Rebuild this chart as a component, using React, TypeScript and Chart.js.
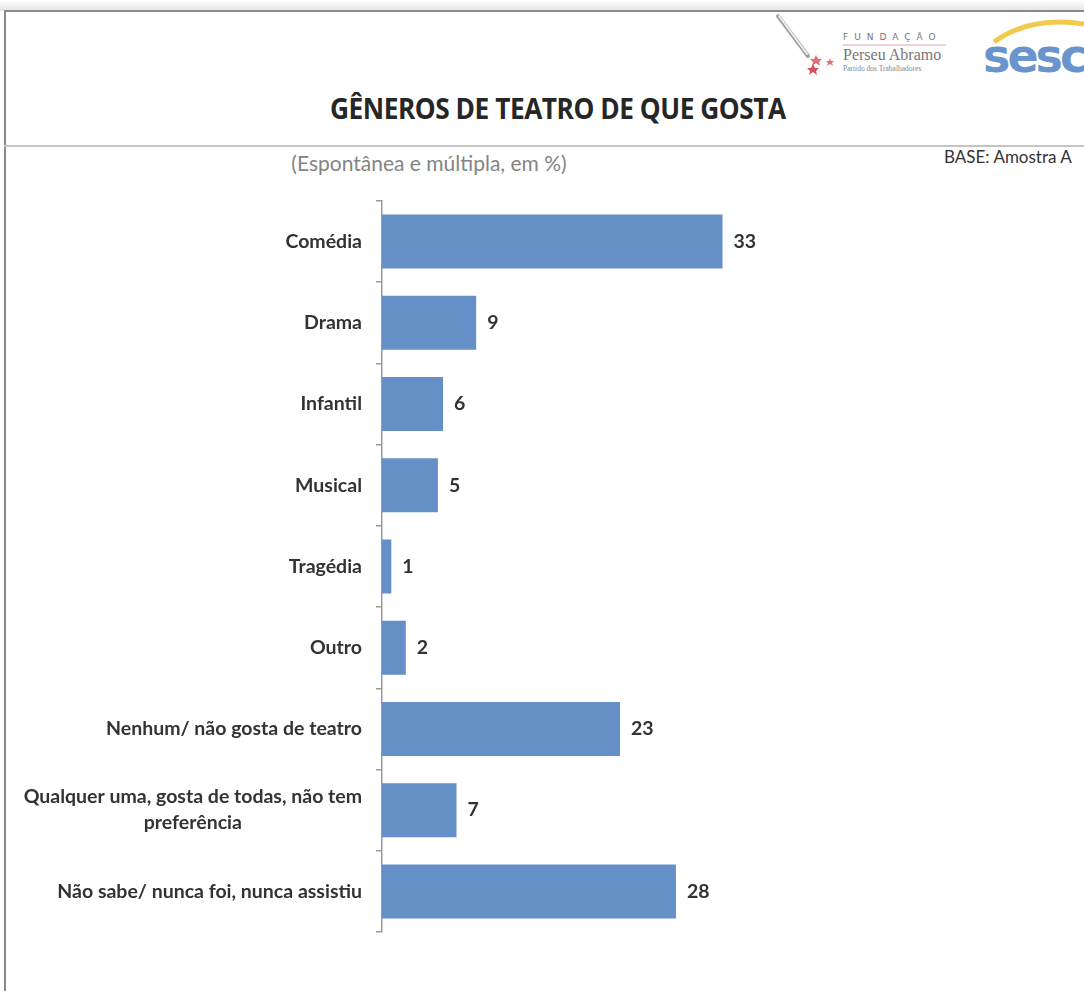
import React, { useEffect, useRef } from "react";
import { Chart, registerables } from "chart.js";
Chart.register(...registerables);

const categories: (string | string[])[] = [
  "Comédia",
  "Drama",
  "Infantil",
  "Musical",
  "Tragédia",
  "Outro",
  "Nenhum/ não gosta de teatro",
  ["Qualquer uma, gosta de todas, não tem", "preferência"],
  "Não sabe/ nunca foi, nunca assistiu",
];
// bar lengths (labels show them rounded)
const values: number[] = [32.9, 9.1, 5.9, 5.4, 0.9, 2.3, 23.0, 7.2, 28.4];
const valueLabels: string[] = values.map((v) => String(Math.round(v)));

const titleText = "GÊNEROS DE TEATRO DE QUE GOSTA";
const subtitleText = "(Espontânea e múltipla, em %)";
const baseText = "BASE: Amostra A";

const BAR_COLOR = "#658fc7";
const TEXT_COLOR = "#333333";
const LABEL_FONT = "bold 19.5px Lato";

const labelPlugin = {
  id: "catLabels",
  afterDraw(chart: any) {
    const ctx = chart.ctx;
    const yScale = chart.scales.y;
    const meta = chart.getDatasetMeta(0);
    ctx.save();
    ctx.font = LABEL_FONT;
    ctx.fillStyle = TEXT_COLOR;
    ctx.textBaseline = "middle";
    const rightX = yScale.right - 20;
    categories.forEach((c, i) => {
      const cy = yScale.getPixelForValue(i);
      const lines = Array.isArray(c) ? c : [c];
      const widths = lines.map((l) => ctx.measureText(l).width);
      const maxW = Math.max(...widths);
      const lh = 26;
      lines.forEach((l, j) => {
        const ly = cy + (j - (lines.length - 1) / 2) * lh;
        ctx.textAlign = "center";
        ctx.fillText(l, rightX - maxW / 2, ly);
      });
    });
    meta.data.forEach((bar: any, i: number) => {
      ctx.textAlign = "left";
      ctx.fillText(valueLabels[i], bar.x + 11, bar.y);
    });
    ctx.restore();
  },
};

export default function App() {
  const ref = useRef<HTMLCanvasElement>(null);
  const titleRef = useRef<HTMLSpanElement>(null);
  useEffect(() => {
    if (titleRef.current) {
      const w = titleRef.current.offsetWidth;
      if (w > 0) titleRef.current.style.transform = `scaleX(${456 / w})`;
    }
    if (!ref.current) return;
    const chart = new Chart(ref.current, {
      type: "bar",
      data: {
        labels: categories.map((c) => (Array.isArray(c) ? c.join(" ") : c)),
        datasets: [
          {
            data: values,
            backgroundColor: BAR_COLOR,
            borderWidth: 0,
            categoryPercentage: 1,
            barPercentage: 0.665,
          },
        ],
      },
      options: {
        indexAxis: "y",
        responsive: false,
        animation: false,
        layout: { padding: { top: 11, bottom: 18, left: 0, right: 81 } },
        plugins: { legend: { display: false }, tooltip: { enabled: false }, title: { display: false } },
        scales: {
          x: { display: false, min: 0, max: 60 },
          y: {
            type: "category",
            afterFit: (scale: any) => {
              scale.width = 382;
            },
            ticks: { display: false },
            grid: {
              offset: true,
              drawOnChartArea: false,
              drawTicks: true,
              tickLength: 6,
              color: "#9a9a9a",
              lineWidth: 1.5,
            },
            border: { display: true, color: "#9a9a9a", width: 1.5 },
          },
        },
      },
      plugins: [labelPlugin],
    });
    return () => chart.destroy();
  }, []);

  return (
    <div
      style={{
        position: "absolute",
        left: 0,
        top: 0,
        width: 1084,
        height: 991,
        background: "#fff",
        overflow: "hidden",
      }}
    >
      {/* frame */}
      <div style={{ position: "absolute", left: 0, top: 0, width: 1084, height: 11, background: "linear-gradient(#fff, #e4e4e4)" }} />
      <div style={{ position: "absolute", left: 4, top: 10, width: 1080, height: 2, background: "#8a8a8a" }} />
      <div style={{ position: "absolute", left: 4, top: 10, width: 2, height: 981, background: "#8a8a8a" }} />
      <div style={{ position: "absolute", left: 4, top: 145, width: 1080, height: 2, background: "#c4c4c4" }} />

      {/* logos */}
      <svg style={{ position: "absolute", left: 770, top: 12 }} width={314} height={70}>
        <line x1={8} y1={4} x2={38} y2={44} stroke="#a0a0a0" strokeWidth={4} strokeLinecap="round" />
        <line x1={9} y1={4} x2={37} y2={42} stroke="#ececec" strokeWidth={2} strokeLinecap="round" />
        <polygon points="46,43 48,47 52,47 49,50 50,54 46,51 42,54 43,50 40,47 44,47" fill="#e36d7b" />
        <polygon points="60,46 61,49 64,49 62,51 63,54 60,52 57,54 58,51 56,49 59,49" fill="#e36d7b" />
        <polygon points="43,52 45,56 49,56 46,59 47,63 43,60 39,63 40,59 37,56 41,56" fill="#d9505f" />
        <text x={73} y={28} fontSize={9} fill="#777" fontFamily="DejaVu Sans" letterSpacing={6}>FUNDAÇÃO</text>
        <line x1={73} y1={33} x2={176} y2={33} stroke="#e8a0aa" strokeWidth={1} />
        <text x={73} y={48} fontSize={16} fill="#777" fontFamily="Liberation Serif">Perseu Abramo</text>
        <text x={73} y={59} fontSize={7.5} fill="#888" fontFamily="Liberation Serif">Partido dos Trabalhadores</text>
        <path d="M 224 30 Q 260 4 314 12" stroke="#f2c94c" strokeWidth={5} fill="none" />
        <text x={213} y={60} fontSize={46} fontWeight="bold" fill="#6a95cc" fontFamily="DejaVu Sans" letterSpacing={-3}>sesc</text>
      </svg>

      {/* title */}
      <div style={{ position: "absolute", left: 330, top: 92, whiteSpace: "nowrap" }}>
        <span
          ref={titleRef}
          style={{
            display: "inline-block",
            transformOrigin: "0 0",
            fontFamily: "'Open Sans'",
            fontWeight: "bold",
            fontSize: 28,
            color: "#262626",
            letterSpacing: -0.5,
            lineHeight: "32px",
          }}
        >
          {titleText}
        </span>
      </div>
      <div
        style={{
          position: "absolute",
          left: 0,
          top: 150,
          width: 858,
          textAlign: "center",
          fontFamily: "Lato",
          fontSize: 21,
          color: "#848484",
          lineHeight: "26px",
        }}
      >
        {subtitleText}
      </div>
      <div
        style={{
          position: "absolute",
          left: 944,
          top: 147,
          fontFamily: "Lato",
          fontSize: 17,
          color: "#333",
          lineHeight: "20px",
          whiteSpace: "nowrap",
        }}
      >
        {baseText}
      </div>

      <canvas
        ref={ref}
        width={1084}
        height={760}
        style={{ position: "absolute", left: 0, top: 190, width: 1084, height: 760 }}
      />
    </div>
  );
}
